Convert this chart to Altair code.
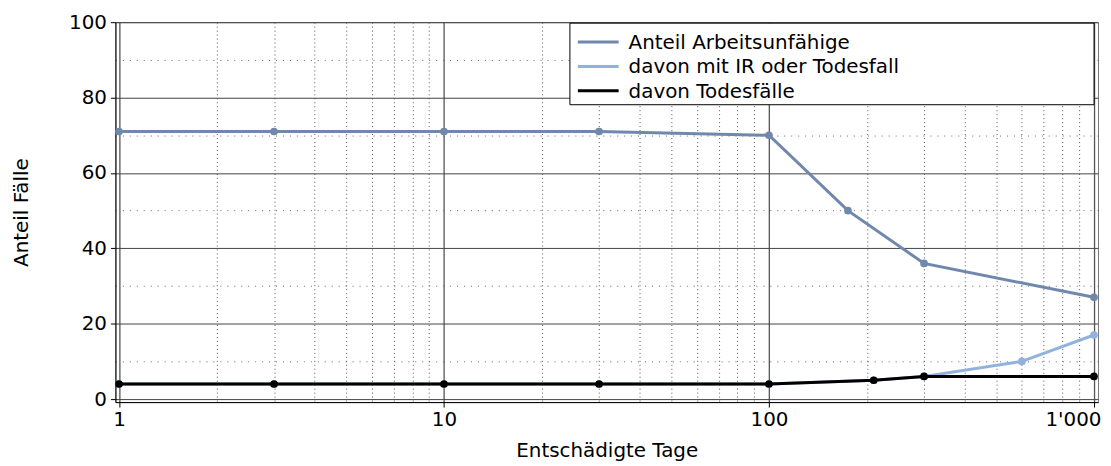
import altair as alt
import pandas as pd

# ---- data ----
days_a = [1, 3, 10, 30, 100, 175, 300, 1000]
share_a = [71, 71, 71, 71, 70, 50, 36, 27]
days_ir = [1, 3, 10, 30, 100, 210, 300, 600, 1000]
share_ir = [4, 4, 4, 4, 4, 5, 6, 10, 17]
days_tod = [1, 3, 10, 30, 100, 210, 300, 1000]
share_tod = [4, 4, 4, 4, 4, 5, 6, 6]

series_names = ["Anteil Arbeitsunfähige", "davon mit IR oder Todesfall", "davon Todesfälle"]
series_colors = ["#6f88ab", "#92b2de", "#000000"]

x_tick_values = [1, 2, 3, 4, 5, 6, 7, 8, 9,
                 10, 20, 30, 40, 50, 60, 70, 80, 90,
                 100, 200, 300, 400, 500, 600, 700, 800, 900, 1000]
y_tick_values = [0, 10, 20, 30, 40, 50, 60, 70, 80, 90, 100]

FONT = "DejaVu Sans"
FS = 20

x_major_test = "indexof([1,10,100,1000], datum.value) >= 0"
y_major_test = "datum.value % 20 == 0"

x_scale = alt.Scale(type="log", domain=[0.975, 1029], nice=False)
y_scale = alt.Scale(domain=[-0.8, 100], nice=False, zero=False)

x_axis = alt.Axis(
    values=x_tick_values,
    title="Entschädigte Tage",
    labelExpr=x_major_test + " ? replace(format(datum.value, ',d'), ',', \"'\") : ''",
    labelOverlap=False,
    labelFont=FONT, labelFontSize=FS, labelColor="#000",
    labelAlign={"condition": {"test": "datum.value == 1000", "value": "right"}, "value": "center"},
    labelOffset={"condition": {"test": "datum.value == 1000", "value": 7}, "value": 0},
    labelPadding=3,
    titleFont=FONT, titleFontSize=FS, titleFontWeight="normal", titleColor="#000",
    titleY=49, titleBaseline="middle",
    grid=True,
    gridColor={"condition": {"test": x_major_test, "value": "#555555"}, "value": "#555555"},
    gridDash={"condition": {"test": x_major_test, "value": []}, "value": [1, 3]},
    gridWidth={"condition": {"test": x_major_test, "value": 1.3}, "value": 1},
    tickColor={"condition": {"test": x_major_test, "value": "#000000"}, "value": "transparent"},
    tickSize=5,
    domainColor="#000000",
)

y_axis = alt.Axis(
    values=y_tick_values,
    title="Anteil Fälle",
    labelExpr=y_major_test + " ? datum.label : ''",
    labelOverlap=False,
    labelFont=FONT, labelFontSize=FS, labelColor="#000",
    labelPadding=4,
    titleFont=FONT, titleFontSize=FS, titleFontWeight="normal", titleColor="#000",
    titleX=-94, titleY=191, titleBaseline="middle", titleAlign="center", titleAngle=270,
    grid=True,
    gridColor={"condition": {"test": y_major_test, "value": "#444444"}, "value": "#666666"},
    gridDash={"condition": {"test": y_major_test, "value": []}, "value": [1, 6]},
    tickColor={"condition": {"test": y_major_test, "value": "#000000"}, "value": "transparent"},
    tickSize=5,
    domainColor="#000000",
)


def series_layer(days, share, color):
    df = pd.DataFrame({"days": days, "share": share})
    enc_x = alt.X("days:Q", scale=x_scale, axis=x_axis)
    enc_y = alt.Y("share:Q", scale=y_scale, axis=y_axis)
    base = alt.Chart(df).encode(x=enc_x, y=enc_y)
    line = base.mark_line(color=color, strokeWidth=3)
    pts = base.mark_point(color=color, filled=True, opacity=1, size=60)
    return line + pts


layers = [
    series_layer(days_ir, share_ir, series_colors[1]),
    series_layer(days_tod, share_tod, series_colors[2]),
    series_layer(days_a, share_a, series_colors[0]),
]

# ---- legend box (drawn manually so the entries sit tightly as in the reference) ----
one = pd.DataFrame({"k": [0]})
legend_frame = alt.Chart(one).mark_rect(fill="white", stroke="#000", strokeWidth=1).encode(
    x=alt.value(457), x2=alt.value(984), y=alt.value(1), y2=alt.value(83)
)
legend_layers = [legend_frame]
for i, (name, col) in enumerate(zip(series_names, series_colors)):
    yy = 20 + i * 24.5
    legend_layers.append(
        alt.Chart(one).mark_rule(color=col, strokeWidth=3).encode(
            x=alt.value(465), x2=alt.value(506), y=alt.value(yy)
        )
    )
    legend_layers.append(
        alt.Chart(one).mark_text(align="left", baseline="middle", font=FONT, fontSize=FS, color="#000").encode(
            x=alt.value(516), y=alt.value(yy + 1), text=alt.value(name)
        )
    )

chart = alt.layer(*layers, *legend_layers).properties(
    width=988,
    height=382,
    autosize=alt.AutoSizeParams(type="none"),
    padding={"left": 108, "top": 13, "right": 5, "bottom": 63},
).configure_view(stroke="#777777", strokeWidth=1)

chart.save("out.html", embed_options={"renderer": "svg", "actions": False})
